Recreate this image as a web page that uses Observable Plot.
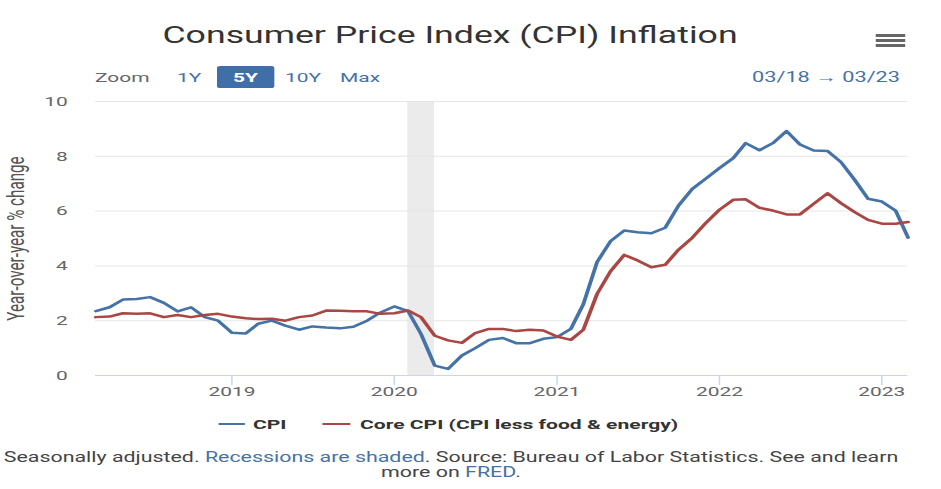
<!DOCTYPE html>
<html>
<head>
<meta charset="utf-8">
<script src="https://cdn.jsdelivr.net/npm/d3@7"></script>
<script src="https://cdn.jsdelivr.net/npm/@observablehq/plot@0.6"></script>
<style>
html, body { margin: 0; padding: 0; background: #fff; overflow: hidden; width: 941px; height: 489px; }
#page { position: absolute; left: 0; top: 0; height: 489px; transform-origin: 0 0; font-family: Roboto, "Noto Sans", sans-serif; }
.abs { position: absolute; white-space: nowrap; }
#title { top: 21px; line-height: 30px; font-size: 23px; color: #333; text-align: center; }
.zrow { top: 66px; height: 22px; line-height: 22px; font-size: 13.5px; }
#btn5 { background: #3f6ea8; color: #fff; font-weight: bold; text-align: center; border-radius: 2px; }
.bar { position: absolute; height: 3px; background: #666; }
.leg { top: 413.5px; line-height: 20px; font-size: 13.6px; font-weight: bold; color: #333; }
.legline { position: absolute; height: 2px; top: 422.5px; }
#caption { top: 449.5px; line-height: 15px; font-size: 13.8px; color: #444; text-align: center; }
#caption a, .link { color: #4572a7; text-decoration: none; }
#chart { position: absolute; left: 0; top: 0; }
</style>
</head>
<body>
<div id="page">
  <div id="chart"></div>
  <div id="title" class="abs">Consumer Price Index (CPI) Inflation</div>
  <div id="menu"></div>
  <div id="zoomLbl" class="abs zrow" style="color:#666">Zoom</div>
  <div id="btn1" class="abs zrow" style="color:#4572a7">1Y</div>
  <div id="btn5" class="abs zrow">5Y</div>
  <div id="btn10" class="abs zrow" style="color:#4572a7">10Y</div>
  <div id="btnMax" class="abs zrow" style="color:#4572a7">Max</div>
  <div id="range" class="abs zrow" style="color:#4572a7;font-size:14px">03/18 → 03/23</div>
  <div id="legLine0" class="legline"></div>
  <div id="legText0" class="abs leg"></div>
  <div id="legLine1" class="legline"></div>
  <div id="legText1" class="abs leg"></div>
  <div id="caption" class="abs">Seasonally adjusted. <span class="link">Recessions are shaded</span>. Source: Bureau of Labor Statistics. See and learn<br>more on <span class="link">FRED</span>.</div>
</div>
<script>
// ---------------- data ----------------
const startMonth = "2018-03-01";
const endMonth = "2023-03-01";
const cpi = [
  2.35, 2.49, 2.77, 2.79, 2.86, 2.65, 2.34, 2.49, 2.13, 2.00,
  1.56, 1.53, 1.89, 2.00, 1.82, 1.67, 1.79, 1.75, 1.72, 1.78, 2.00, 2.30,
  2.52, 2.35, 1.52, 0.36, 0.24, 0.73, 1.00, 1.30, 1.37, 1.18, 1.18, 1.34,
  1.40, 1.70, 2.60, 4.14, 4.90, 5.29, 5.23, 5.19, 5.39, 6.20, 6.81, 7.18,
  7.57, 7.93, 8.48, 8.22, 8.48, 8.92, 8.43, 8.21, 8.19, 7.79, 7.14, 6.45,
  6.35, 6.02, 5.03
];
const coreCpi = [
  2.13, 2.15, 2.27, 2.25, 2.27, 2.13, 2.21, 2.13, 2.21, 2.25,
  2.15, 2.09, 2.06, 2.07, 2.00, 2.13, 2.19, 2.37, 2.36, 2.34, 2.34, 2.25,
  2.27, 2.37, 2.13, 1.45, 1.28, 1.19, 1.55, 1.70, 1.70, 1.62, 1.67, 1.64,
  1.42, 1.30, 1.67, 2.98, 3.80, 4.40, 4.20, 3.95, 4.04, 4.59, 5.03, 5.56,
  6.05, 6.41, 6.43, 6.12, 6.02, 5.88, 5.88, 6.27, 6.65, 6.29, 5.96, 5.68,
  5.54, 5.54, 5.60
];
const seriesNames = ["CPI", "Core CPI (CPI less food & energy)"];
const seriesColors = ["#4572a7", "#aa4643"];
const xTickYears = [2019, 2020, 2021, 2022, 2023];
const yTicks = [0, 2, 4, 6, 8, 10];
const recessions = [{start: "2020-02-01", end: "2020-04-01"}];
const yLabel = "Year-over-year % change";

// ---------------- layout (final pixel coords) ----------------
const K = 1.55;              // horizontal stretch of the reference
const W = 941 / K;
const ix = v => v / K;       // final x -> inner x

const page = document.getElementById("page");
page.style.width = W + "px";
page.style.transform = `scaleX(${K})`;

function setX(id, left, width) {
  const el = document.getElementById(id);
  el.style.left = ix(left) + "px";
  if (width != null) el.style.width = ix(width) + "px";
  return el;
}
setX("title", 0, 900);
setX("zoomLbl", 95);
setX("btn1", 177);
setX("btn5", 217, 57);
setX("btn10", 285);
setX("btnMax", 340);
const rng = document.getElementById("range");
rng.style.right = (W - ix(900)) + "px";
setX("caption", 0, 902);

// hamburger menu
const menu = document.getElementById("menu");
[33.5, 38.5, 43.5].forEach(t => {
  const b = document.createElement("div");
  b.className = "bar";
  b.style.top = t + "px";
  b.style.left = ix(875) + "px";
  b.style.width = ix(30) + "px";
  menu.appendChild(b);
});

// legend
const legLines = [[218, 245, 253], [323, 350, 360]];
seriesNames.forEach((name, i) => {
  const l = setX("legLine" + i, legLines[i][0], legLines[i][1] - legLines[i][0]);
  l.style.background = seriesColors[i];
  const t = setX("legText" + i, legLines[i][2]);
  t.textContent = name;
});

// ---------------- chart ----------------
const months = d3.utcMonth.range(new Date(startMonth), d3.utcMonth.offset(new Date(endMonth), 1));
const rows = [
  ...months.map((d, i) => ({date: d, value: cpi[i], series: seriesNames[0]})),
  ...months.map((d, i) => ({date: d, value: coreCpi[i], series: seriesNames[1]}))
];

const chart = Plot.plot({
  width: W,
  height: 410,
  marginLeft: ix(95),
  marginRight: ix(941 - 907.3),
  marginTop: 101,
  marginBottom: 35,
  style: {fontFamily: "Roboto, sans-serif", fontSize: "13.5px", color: "#666", background: "transparent", overflow: "visible"},
  x: {type: "utc", domain: [months[0], months[months.length - 1]]},
  y: {domain: [0, 10]},
  color: {domain: seriesNames, range: seriesColors},
  marks: [
    Plot.rect(recessions, {x1: d => new Date(d.start), x2: d => new Date(d.end), fill: "#ebebeb"}),
    Plot.gridY(yTicks.filter(v => v > 0), {stroke: "#e6e6e6", strokeOpacity: 1}),
    Plot.ruleY([0], {stroke: "#ccd6eb"}),
    Plot.axisY({ticks: yTicks, tickSize: 0, tickPadding: ix(28), fill: "#666",
      label: yLabel, labelAnchor: "center", labelOffset: ix(95) - 4, labelArrow: "none"}),
    Plot.axisX({ticks: xTickYears.map(y => new Date(Date.UTC(y, 0, 1))), tickFormat: "%Y",
      tickSize: 10, tickPadding: 1, stroke: "#ccd6eb", strokeOpacity: 1, fill: "#666", label: null}),
    Plot.lineY(rows, {x: "date", y: "value", z: "series", stroke: "series", strokeWidth: 2.5})
  ]
});
document.getElementById("chart").appendChild(chart);
const lab = chart.querySelector('[aria-label="y-axis label"]');
if (lab) { lab.setAttribute("font-size", "15.2"); lab.setAttribute("fill", "#555"); }
</script>
</body>
</html>
